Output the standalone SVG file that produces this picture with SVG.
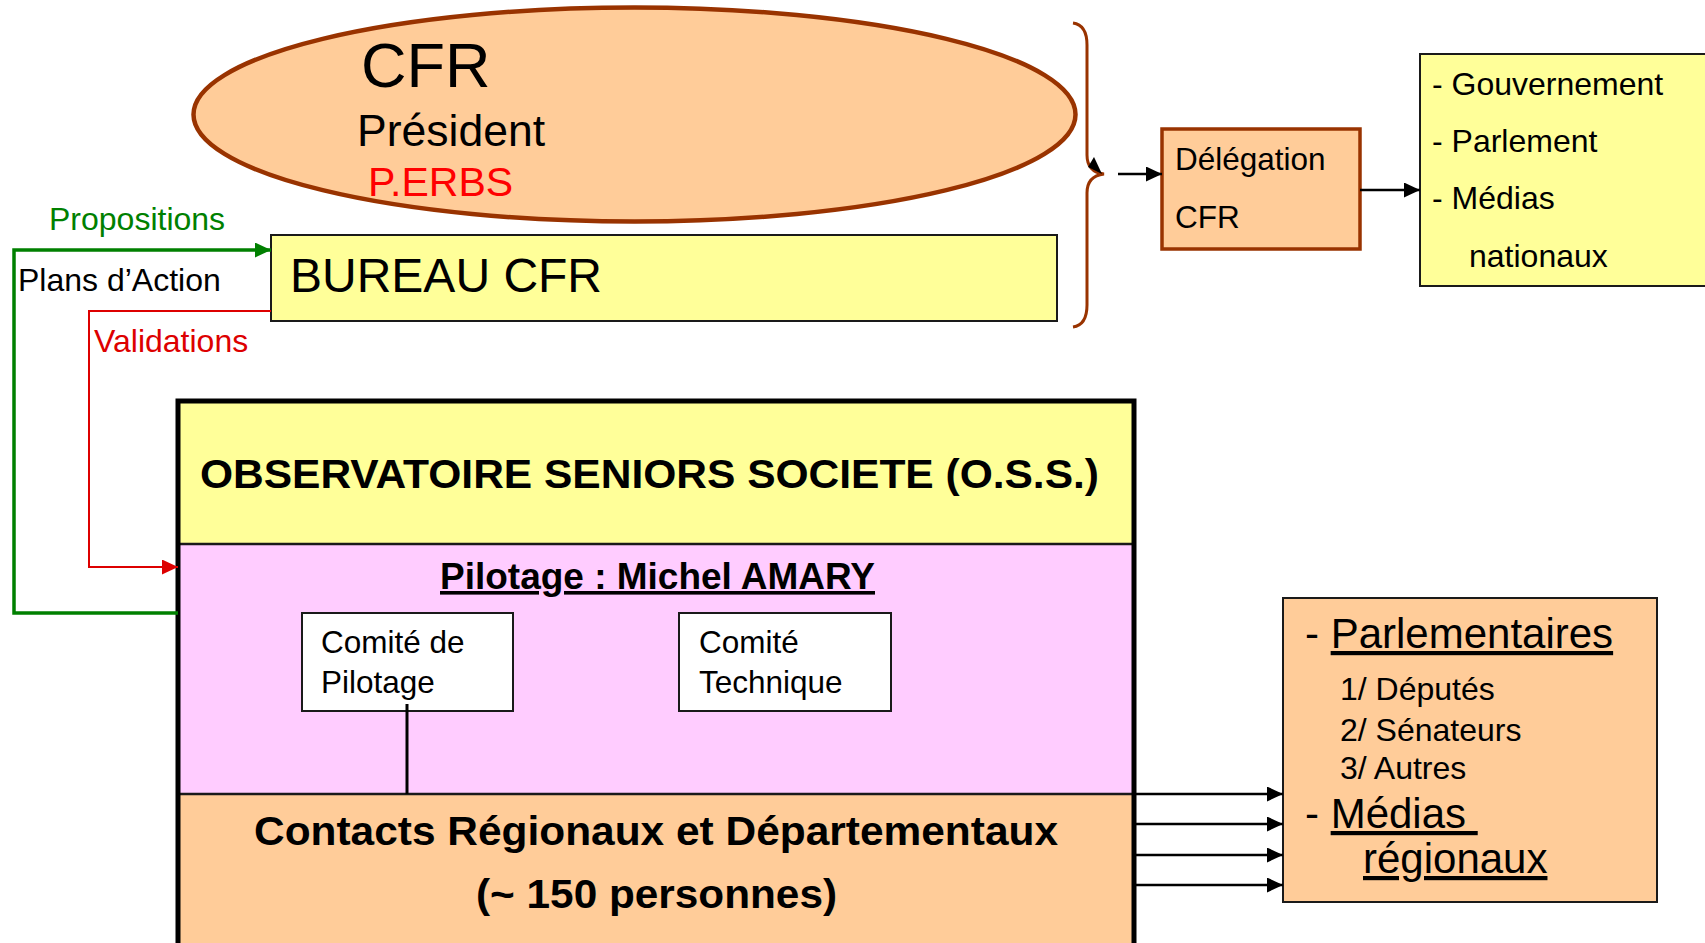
<svg xmlns="http://www.w3.org/2000/svg" width="1705" height="943" viewBox="0 0 1705 943">
<style>
text{font-family:"Liberation Sans",Arial,sans-serif;fill:#000}
.b{font-weight:bold}
.u{text-decoration:underline}
.box{stroke:#1a1a1a;stroke-width:2}
</style>
<defs>
<marker id="ab" markerUnits="userSpaceOnUse" markerWidth="16" markerHeight="15" refX="16" refY="7.5" orient="auto"><path d="M0,0 L16,7.5 L0,15 z" fill="#000"/></marker>
<marker id="ag" markerUnits="userSpaceOnUse" markerWidth="16" markerHeight="15" refX="16" refY="7.5" orient="auto"><path d="M0,0 L16,7.5 L0,15 z" fill="#008000"/></marker>
<marker id="ar" markerUnits="userSpaceOnUse" markerWidth="16" markerHeight="15" refX="16" refY="7.5" orient="auto"><path d="M0,0 L16,7.5 L0,15 z" fill="#DD0000"/></marker>
</defs>
<rect width="1705" height="943" fill="#fff"/>

<g id="cfr">
<ellipse cx="634.5" cy="114.5" rx="441" ry="107" fill="#FFCC99" stroke="#993300" stroke-width="4.5"/>
<text x="361" y="87" font-size="63">CFR</text>
<text x="357" y="146" font-size="44.5">Président</text>
<text x="368" y="196" font-size="41" style="fill:#FF0000">P.ERBS</text>
</g>

<g id="bureau">
<rect x="271" y="235" width="786" height="86" fill="#FFFF99" class="box"/>
<text x="290" y="292" font-size="48">BUREAU CFR</text>
</g>

<g id="brace">
<path d="M1073,23 Q1087,25 1087,45 L1087,155 Q1087,172 1104,174 Q1087,176 1087,193 L1087,305 Q1087,325 1073,327" fill="none" stroke="#993300" stroke-width="3"/>
<polygon points="1094,157 1088,167 1102,174" fill="#000"/>
</g>

<g id="delegation">
<rect x="1162" y="129" width="198" height="120" fill="#FFCC99" stroke="#993300" stroke-width="3.5"/>
<text x="1175" y="170" font-size="31.5">Délégation</text>
<text x="1175" y="228" font-size="31.5">CFR</text>
</g>

<g id="national">
<rect x="1420" y="54" width="300" height="232" fill="#FFFF99" class="box"/>
<text x="1432" y="95" font-size="32">- Gouvernement</text>
<text x="1432" y="152" font-size="32">- Parlement</text>
<text x="1432" y="209" font-size="32">- Médias</text>
<text x="1469" y="267" font-size="32">nationaux</text>
</g>

<g id="oss">
<rect x="178" y="399" width="956" height="145" fill="#FFFF99"/>
<rect x="178" y="544" width="956" height="250" fill="#FFCCFF"/>
<rect x="178" y="794" width="956" height="160" fill="#FFCC99"/>
<line x1="178" y1="544" x2="1134" y2="544" stroke="#1a1a1a" stroke-width="2.5"/>
<line x1="178" y1="794" x2="1134" y2="794" stroke="#1a1a1a" stroke-width="2.5"/>
<path d="M178,960 L178,401 L1134,401 L1134,960" fill="none" stroke="#000" stroke-width="5"/>
<text x="200" y="488" font-size="41" class="b" textLength="899" lengthAdjust="spacingAndGlyphs">OBSERVATOIRE SENIORS SOCIETE (O.S.S.)</text>
<text x="440" y="589" font-size="36" class="b u" textLength="435" lengthAdjust="spacingAndGlyphs">Pilotage : Michel AMARY</text>
<text x="254" y="845" font-size="41" class="b" textLength="804" lengthAdjust="spacingAndGlyphs">Contacts Régionaux et Départementaux</text>
<text x="476" y="908" font-size="41" class="b" textLength="361" lengthAdjust="spacingAndGlyphs">(~ 150 personnes)</text>
</g>

<g id="comite-pilotage">
<rect x="302" y="613" width="211" height="98" fill="#fff" class="box"/>
<text x="321" y="653" font-size="31.5">Comité de</text>
<text x="321" y="693" font-size="31.5">Pilotage</text>
</g>

<g id="comite-technique">
<rect x="679" y="613" width="212" height="98" fill="#fff" class="box"/>
<text x="699" y="653" font-size="31.5">Comité</text>
<text x="699" y="693" font-size="31.5">Technique</text>
</g>

<g id="regional">
<rect x="1283" y="598" width="374" height="304" fill="#FFCC99" class="box"/>
<text x="1305" y="648" font-size="42">- <tspan class="u">Parlementaires</tspan></text>
<text x="1340" y="700" font-size="32">1/ Députés</text>
<text x="1340" y="741" font-size="32">2/ Sénateurs</text>
<text x="1340" y="779" font-size="32">3/ Autres</text>
<text x="1305" y="828" font-size="42" xml:space="preserve">- <tspan class="u">Médias </tspan></text>
<text x="1363" y="873" font-size="42" class="u">régionaux</text>
</g>

<g id="labels">
<text x="49" y="230" font-size="32" style="fill:#008000">Propositions</text>
<text x="18" y="291" font-size="32">Plans d’Action</text>
<text x="94" y="352" font-size="32" style="fill:#DD0000">Validations</text>
</g>

<g id="connectors" fill="none">
<path d="M178,613 L14,613 L14,250 L271,250" stroke="#008000" stroke-width="3.5" marker-end="url(#ag)"/>
<path d="M271,311 L89,311 L89,567 L178,567" stroke="#DD0000" stroke-width="2" marker-end="url(#ar)"/>
<line x1="1118" y1="174" x2="1162" y2="174" stroke="#000" stroke-width="2.5" marker-end="url(#ab)"/>
<line x1="1360" y1="190" x2="1420" y2="190" stroke="#000" stroke-width="2.5" marker-end="url(#ab)"/>
<line x1="407" y1="704" x2="407" y2="794" stroke="#000" stroke-width="3"/>
<line x1="1136" y1="794" x2="1283" y2="794" stroke="#000" stroke-width="2.5" marker-end="url(#ab)"/>
<line x1="1136" y1="824" x2="1283" y2="824" stroke="#000" stroke-width="2.5" marker-end="url(#ab)"/>
<line x1="1136" y1="855" x2="1283" y2="855" stroke="#000" stroke-width="2.5" marker-end="url(#ab)"/>
<line x1="1136" y1="885" x2="1283" y2="885" stroke="#000" stroke-width="2.5" marker-end="url(#ab)"/>
</g>
</svg>
